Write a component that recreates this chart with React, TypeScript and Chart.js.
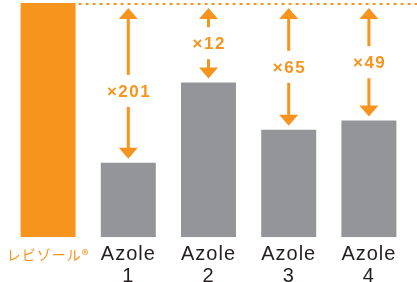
import { useEffect, useRef } from 'react';
import { Chart, registerables } from 'chart.js';

Chart.register(...registerables);

const categories: (string | string[])[] = ['レビゾール®', ['Azole', '1'], ['Azole', '2'], ['Azole', '3'], ['Azole', '4']];
const values = [100, 31.8, 66.1, 45.9, 49.8];
const ratioLabels = ['×201', '×12', '×65', '×49'];

const ORANGE = '#F7941D';
const GRAY = '#939598';
const DARK = '#231F20';
const LATIN = '"Liberation Sans", Arial, Helvetica, sans-serif';
const CJK = '"Noto Sans CJK JP", "Noto Sans", sans-serif';

export default function App() {
  const ref = useRef<HTMLCanvasElement>(null);

  useEffect(() => {
    const labelFractions = [0.55, 0.5, 0.5, 0.5];

    const spacingPlugin = {
      id: 'spacing',
      beforeDraw(chart: any) {
        (chart.ctx as any).letterSpacing = '1px';
      },
    };

    const arrowPlugin = {
      id: 'arrows',
      afterDatasetsDraw(chart: any) {
        const ctx = chart.ctx as CanvasRenderingContext2D;
        const meta = chart.getDatasetMeta(0);
        const ys = chart.scales.y;
        const topY = ys.getPixelForValue(values[0]);
        const first = meta.data[0] as any;
        ctx.save();
        (ctx as any).letterSpacing = '0px';
        // dotted reference line
        ctx.strokeStyle = ORANGE;
        ctx.lineWidth = 2;
        ctx.setLineDash([3, 4]);
        ctx.beginPath();
        ctx.moveTo(first.x + first.width / 2 + 3, topY + 1);
        ctx.lineTo(chart.width, topY + 1);
        ctx.stroke();
        ctx.setLineDash([]);

        ctx.fillStyle = ORANGE;
        const headLen = 11;
        const halfW = 9.5;
        const shaftW = 3;
        for (let i = 1; i < meta.data.length; i++) {
          const bar = meta.data[i] as any;
          const x = bar.x;
          const tip1 = topY + 5;
          const tip2 = bar.y - 4;
          const mid = tip1 + (tip2 - tip1) * labelFractions[i - 1];
          // up arrow
          ctx.beginPath();
          ctx.moveTo(x, tip1);
          ctx.lineTo(x + halfW, tip1 + headLen);
          ctx.lineTo(x - halfW, tip1 + headLen);
          ctx.closePath();
          ctx.fill();
          const s1 = tip1 + headLen - 1;
          const e1 = mid - 16;
          if (e1 > s1) ctx.fillRect(x - shaftW / 2, s1, shaftW, e1 - s1);
          // down arrow
          ctx.beginPath();
          ctx.moveTo(x, tip2);
          ctx.lineTo(x + halfW, tip2 - headLen);
          ctx.lineTo(x - halfW, tip2 - headLen);
          ctx.closePath();
          ctx.fill();
          const s2 = mid + 16;
          const e2 = tip2 - headLen + 1;
          if (e2 > s2) ctx.fillRect(x - shaftW / 2, s2, shaftW, e2 - s2);
          // label
          (ctx as any).letterSpacing = '1.5px';
          ctx.font = `bold 17px ${LATIN}`;
          ctx.textAlign = 'center';
          ctx.textBaseline = 'middle';
          ctx.fillText(ratioLabels[i - 1], x + 0.75, mid + 1);
        }
        ctx.restore();
      },
    };

    const chart = new Chart(ref.current!, {
      type: 'bar',
      data: {
        labels: categories,
        datasets: [
          {
            data: values,
            backgroundColor: values.map((_, i) => (i === 0 ? ORANGE : GRAY)),
            borderWidth: 0,
            categoryPercentage: 1,
            barPercentage: 0.686,
          },
        ],
      },
      options: {
        responsive: true,
        maintainAspectRatio: false,
        animation: false,
        layout: { padding: { left: 8, right: 8, top: 3, bottom: 3 } },
        plugins: { legend: { display: false }, tooltip: { enabled: false } },
        scales: {
          x: {
            grid: { display: false, drawTicks: false },
            border: { display: false },
            ticks: {
              padding: 6,
              maxRotation: 0,
              autoSkip: false,
              color: (c: any) => (c.index === 0 ? ORANGE : DARK),
              font: (c: any) =>
                c.index === 0
                  ? { family: CJK, size: 14, lineHeight: 1.6 }
                  : { family: LATIN, size: 20, lineHeight: 1.12 },
            },
          },
          y: { display: false, min: 0, max: 100 },
        },
      },
      plugins: [spacingPlugin, arrowPlugin],
    });
    return () => chart.destroy();
  }, []);

  return (
    <div style={{ position: 'fixed', left: 0, top: 0, width: 417, height: 282, overflow: 'hidden', background: '#fff' }}>
      <div style={{ position: 'relative', width: 417, height: 297 }}>
        <canvas ref={ref} />
      </div>
    </div>
  );
}
